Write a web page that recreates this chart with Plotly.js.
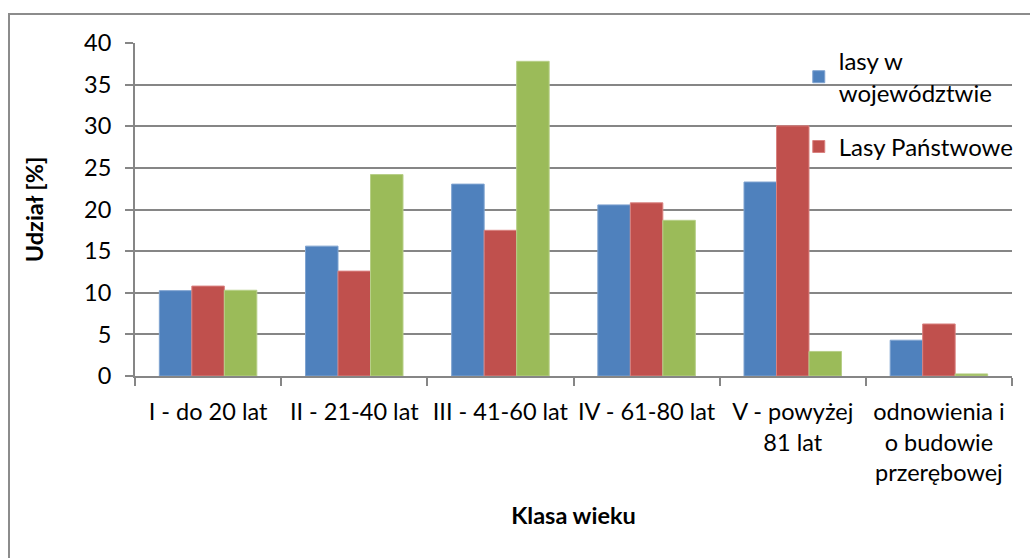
<!DOCTYPE html>
<html>
<head>
<meta charset="utf-8">
<script src="https://cdn.plot.ly/plotly-3.0.1.min.js"></script>
<style>
html,body{margin:0;padding:0;background:#fff;overflow:hidden;}
#frame{position:absolute;left:8px;top:13px;width:1100px;height:700px;border:2px solid #8c8c8c;box-sizing:border-box;}
#chart{position:absolute;left:0;top:0;width:1030px;height:558px;}
</style>
</head>
<body>
<div id="frame"></div>
<div id="chart"></div>
<script>
const categories = ["I - do 20 lat", "II - 21-40 lat", "III - 41-60 lat", "IV - 61-80 lat", "V - powyżej<br>81 lat", "odnowienia i<br>o budowie<br>przerębowej"];
const seriesNames = ["lasy w<br>województwie", "Lasy Państwowe", "pozostałe"];
const lasyWojewodztwo = [10.25, 15.6, 23.05, 20.55, 23.3, 4.3];
const lasyPanstwowe = [10.8, 12.6, 17.5, 20.8, 30.05, 6.25];
const trzeciaSeria = [10.3, 24.2, 37.8, 18.7, 2.95, 0.25];
const colors = ["#4F81BD", "#C0504D", "#9BBB59"];
const edge = ["#7FA3D0", "#D98280", "#B7CF88"];

const font = "Lato, 'Liberation Sans', sans-serif";
const fs = 23.5;
const vals = [lasyWojewodztwo, lasyPanstwowe, trzeciaSeria];
const traces = vals.map((v, i) => ({
  type: "bar",
  name: seriesNames[i],
  legendgroup: "g" + i,
  x: categories,
  y: v,
  marker: {color: colors[i], line: {color: edge[i], width: 1}},
  showlegend: i < 2,
  hoverinfo: "x+y+name"
}));

const layout = {
  width: 1030, height: 558,
  paper_bgcolor: "rgba(0,0,0,0)",
  plot_bgcolor: "rgba(0,0,0,0)",
  margin: {l: 135, r: 17, t: 43, b: 182},
  barmode: "group",
  bargap: 0.333,
  bargroupgap: 0,
  font: {family: font, size: fs, color: "#000"},
  xaxis: {
    type: "category",
    showline: true, linecolor: "#868686", linewidth: 2,
    ticks: "outside", ticklen: 8, tickcolor: "#868686", tickwidth: 2,
    tickson: "boundaries",
    tickangle: 0,
    showgrid: false,
    ticklabelstandoff: 14,
    tickfont: {family: font, size: fs, color: "#000"},
    title: {text: "<b>Klasa wieku</b>", font: {family: font, size: fs, color: "#000"}, standoff: 22}
  },
  yaxis: {
    range: [0, 40], dtick: 5,
    showline: true, linecolor: "#868686", linewidth: 2,
    ticks: "outside", ticklen: 8, tickcolor: "#868686", tickwidth: 2,
    showgrid: true, gridcolor: "#868686", gridwidth: 2,
    zeroline: false,
    ticklabelstandoff: 9,
    tickfont: {family: font, size: fs, color: "#000"},
    title: {text: "<b>Udział [%]</b>", font: {family: font, size: fs, color: "#000"}, standoff: 34}
  },
  legend: {
    x: 0.756, xanchor: "left", y: 1.012, yanchor: "top",
    bgcolor: "rgba(0,0,0,0)",
    font: {family: font, size: 24, color: "#000"},
    itemwidth: 30, tracegroupgap: 20
  }
};

Plotly.newPlot("chart", traces, layout, {displayModeBar: false, staticPlot: true});
</script>
</body>
</html>
